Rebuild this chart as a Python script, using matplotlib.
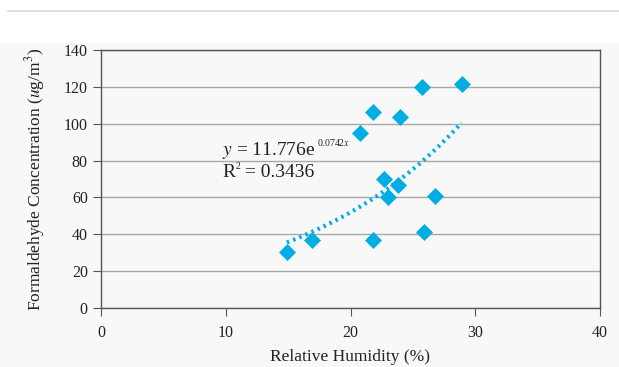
import numpy as np
import matplotlib
matplotlib.use("Agg")
import matplotlib.pyplot as plt
from matplotlib.patches import Rectangle
from matplotlib.lines import Line2D

plt.rcParams['font.family'] = ['Liberation Serif', 'DejaVu Serif']
plt.rcParams['mathtext.fontset'] = 'stix'

# data
humidity = [14.9, 16.9, 21.8, 20.8, 21.8, 24.0, 22.7, 23.0, 23.8, 25.7, 28.9, 25.9, 26.8]
formaldehyde = [30.2, 37.0, 36.9, 95.1, 106.2, 103.5, 70.0, 60.4, 66.7, 120.0, 121.4, 41.2, 60.8]
fit_a = 11.776
fit_b = 0.0742
r_squared = 0.3436
x_ticks = [0, 10, 20, 30, 40]
y_ticks = [0, 20, 40, 60, 80, 100, 120, 140]

blue = '#00aee3'
ink = '#222222'

fig = plt.figure(figsize=(6.19, 3.67), dpi=100, facecolor='white')

# faint page panel and top rule like the screenshot
fig.patches.append(Rectangle((0, 0), 1, 1 - 43 / 367, transform=fig.transFigure,
                             facecolor='#f8f8f8', edgecolor='none', zorder=-5))
fig.lines.append(Line2D([8 / 619, 1], [1 - 11 / 367] * 2, transform=fig.transFigure,
                        color='#d8d8d8', lw=1.2))

ax = fig.add_axes([101 / 619, 1 - 308 / 367, 499 / 619, 258 / 367])
ax.set_facecolor('#f8f8f8')

ax.scatter(humidity, formaldehyde, marker='D', s=75, color=blue, zorder=3, linewidths=0)

xf = np.linspace(min(humidity), max(humidity), 100)
ax.plot(xf, fit_a * np.exp(fit_b * xf), color=blue, lw=3, linestyle=(0, (0.6, 1.0)),
        dash_capstyle='butt', zorder=2)

# trendline equation, with small Excel-style superscripts
t1 = ax.text(9.7, 80.0, r'$y$ = 11.776e', fontsize=14, va='bottom', color=ink)
ax.annotate(r'0.0742$x$', xy=(1, 1), xycoords=t1, xytext=(1, 1.5), textcoords='offset points',
            fontsize=7, va='top', ha='left', color=ink)
t2 = ax.text(9.7, 69.0, 'R', fontsize=14, va='bottom', color=ink)
ax.annotate('2', xy=(1, 1), xycoords=t2, xytext=(0.5, 1.5), textcoords='offset points',
            fontsize=7, va='top', ha='left', color=ink)
ax.annotate(' = %.4f' % r_squared, xy=(1, 0), xycoords=t2, xytext=(3.5, 0),
            textcoords='offset points', fontsize=14, va='bottom', ha='left', color=ink)

ax.set_xlim(0, 40)
ax.set_ylim(0, 140)
ax.set_xticks(x_ticks)
ax.set_yticks(y_ticks)
ax.yaxis.grid(True, color='#a8a8a8', lw=1)
ax.set_axisbelow(True)
for s in ax.spines.values():
    s.set_color('#555555')
    s.set_linewidth(1)
ax.tick_params(axis='both', direction='out', length=6, color='#555555', labelsize=11.5,
               labelcolor=ink)
ax.tick_params(axis='x', pad=6)

ax.set_ylabel('Formaldehyde Concentration ($u$g/m$^3$)', fontsize=12.5, color=ink, labelpad=12)
ax.set_xlabel('Relative Humidity (%)', fontsize=12.5, color=ink, labelpad=6)

fig.savefig('out.png', dpi=100, facecolor=fig.get_facecolor())
